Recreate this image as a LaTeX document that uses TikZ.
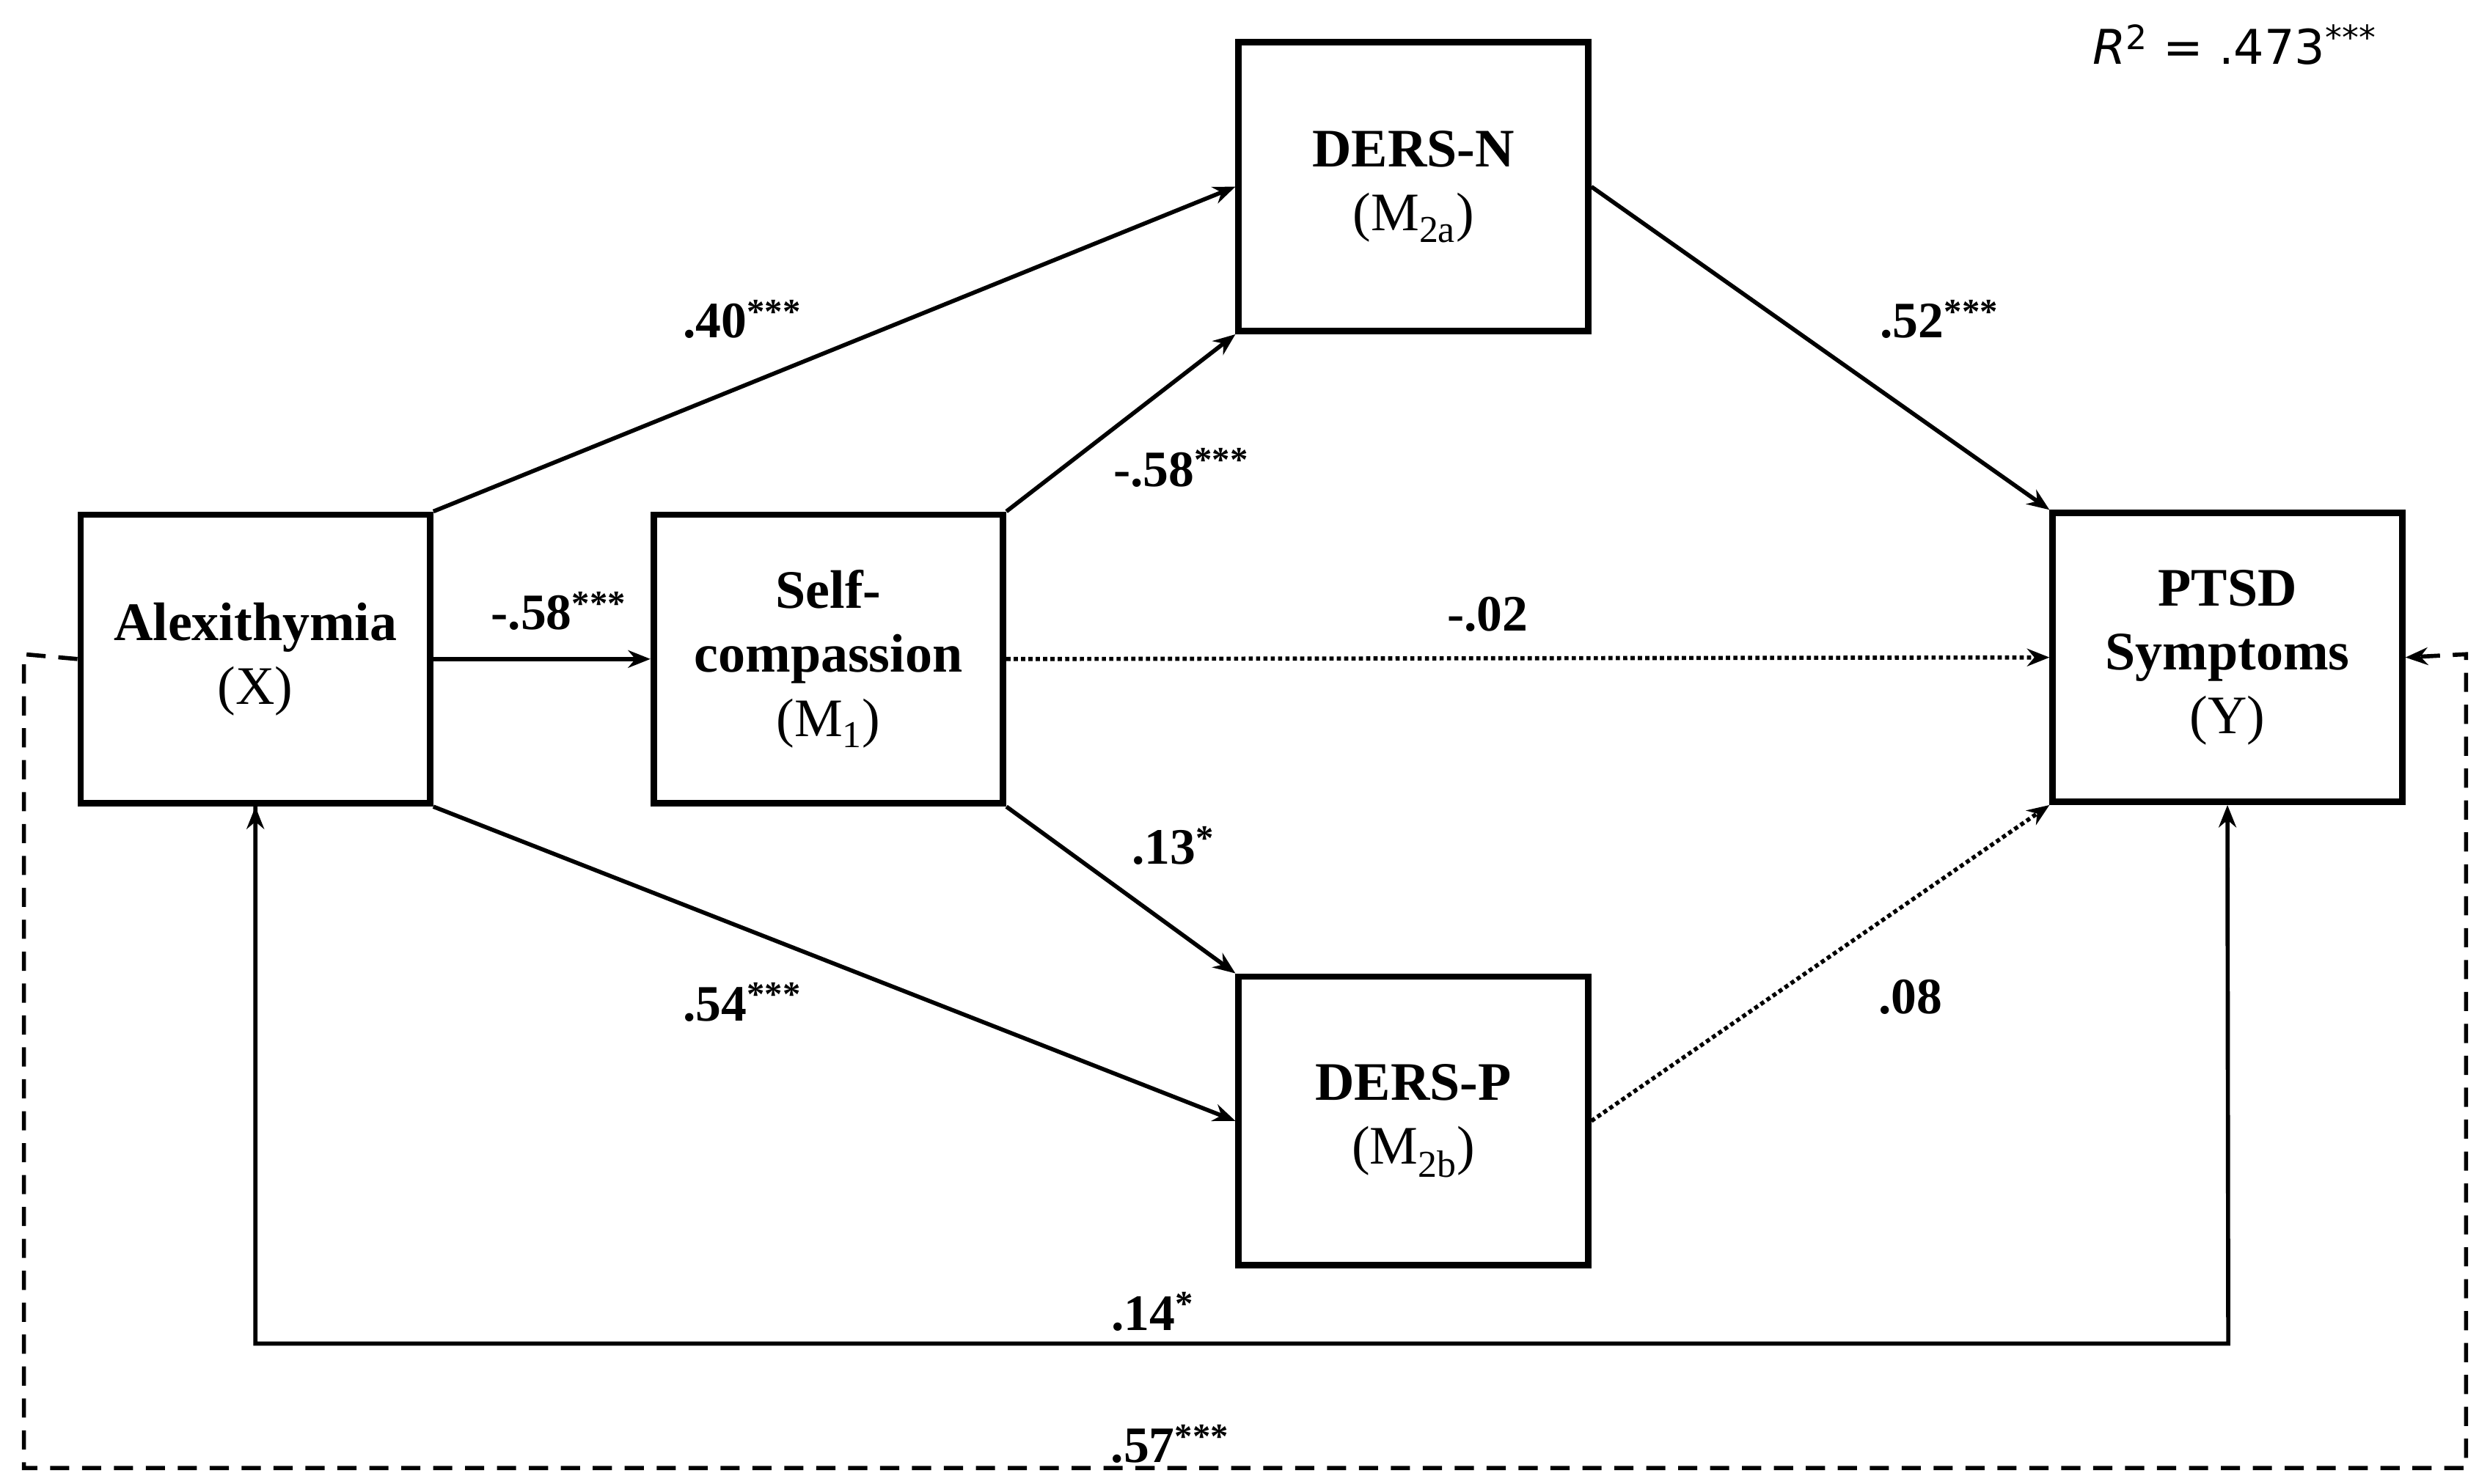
\documentclass[tikz,border=0pt]{standalone}
\usepackage{fontspec}
\setmainfont{Liberation Serif}
\newfontfamily\sansr{DejaVu Sans}
\usetikzlibrary{arrows.meta}
\begin{document}
\begin{tikzpicture}[x=1pt,y=-1pt,
  box/.style={draw,line width=4pt,minimum width=219pt,minimum height=181pt,align=center,font=\fontsize{34}{40}\selectfont,inner sep=0pt},
  arr/.style={line width=2.6pt,-{Stealth[length=14pt,width=11pt]}},
  lab/.style={font=\fontsize{32}{36}\selectfont\bfseries}]
\useasboundingbox (0,0) rectangle (1560,930);
\node[box] (x) at (160,413) {\textbf{Alexithymia}\\(X)};
\node[box] (m1) at (519,413) {\textbf{Self-}\\\textbf{compassion}\\(M\textsubscript{1})};
\node[box] (m2a) at (885.5,117) {\textbf{DERS-N}\\(M\textsubscript{2a})};
\node[box] (m2b) at (885.5,702.5) {\textbf{DERS-P}\\(M\textsubscript{2b})};
\node[box] (y) at (1395.5,412) {\textbf{PTSD}\\\textbf{Symptoms}\\(Y)};
\draw[arr] (x.north east) -- (m2a.west);
\draw[arr] (x.east) -- (m1.west);
\draw[arr] (x.south east) -- (m2b.west);
\draw[arr] (m1.north east) -- (m2a.south west);
\draw[arr] (m1.south east) -- (m2b.north west);
\draw[arr,dotted] (m1.east) -- (y.west);
\draw[arr] (m2a.east) -- (y.north west);
\draw[arr,dotted] (m2b.east) -- (y.south west);
\draw[arr] (x.south) ++(0,0) coordinate (xs) (xs -| 160,0) ;
\coordinate (b1) at (160,842);
\coordinate (b2) at (1396,842);
\draw[arr] (160,503) -- (b1) -- (b2) -- (y.south);
\coordinate (d1) at (15,410);
\coordinate (d2) at (15,920);
\coordinate (d3) at (1545,920);
\coordinate (d4) at (1545,410);
\draw[arr,dashed,dash pattern=on 12pt off 8pt] (x.west) -- (d1) -- (d2) -- (d3) -- (d4) -- (y.east);
\node[lab] at (465,200) {.40\textsuperscript{***}};
\node[lab] at (350,383) {-.58\textsuperscript{***}};
\node[lab] at (465,628) {.54\textsuperscript{***}};
\node[lab] at (740,293) {-.58\textsuperscript{***}};
\node[lab] at (735,530) {.13\textsuperscript{*}};
\node[lab] at (932,385) {-.02};
\node[lab] at (1215,200) {.52\textsuperscript{***}};
\node[lab] at (1197,625) {.08};
\node[lab] at (722,822) {.14\textsuperscript{*}};
\node[lab] at (733,905) {.57\textsuperscript{***}};
\node[font=\sansr\fontsize{30}{34}\selectfont] at (1400,28) {\textit{R}\textsuperscript{2} = .473\textsuperscript{***}};
\end{tikzpicture}
\end{document}
